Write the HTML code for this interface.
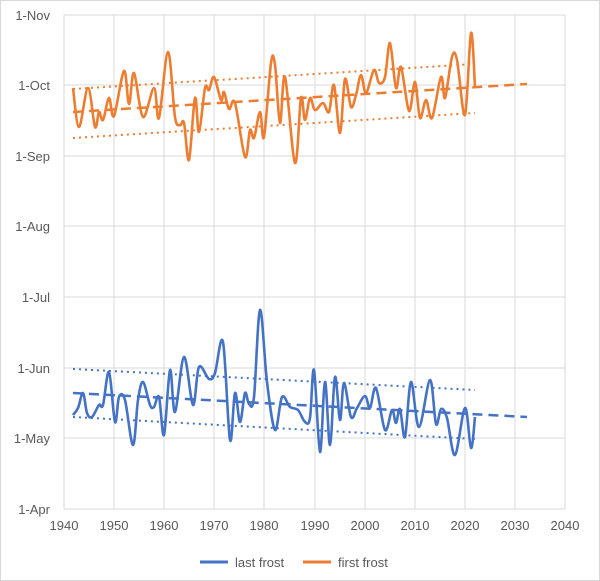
<!DOCTYPE html>
<html><head><meta charset="utf-8"><style>
html,body{margin:0;padding:0;background:#fff;}
svg{display:block;font-family:"Liberation Sans",sans-serif;}
</style></head><body>
<svg id="s" width="600" height="581" viewBox="0 0 600 581" xmlns="http://www.w3.org/2000/svg">
<rect x="0.5" y="0.5" width="599" height="580" fill="#fff" stroke="#d9d9d9"/>
<g stroke="#d9d9d9" stroke-width="1">
<line x1="64" y1="15" x2="565" y2="15"/><line x1="64" y1="85" x2="565" y2="85"/>
<line x1="64" y1="156" x2="565" y2="156"/><line x1="64" y1="226" x2="565" y2="226"/>
<line x1="64" y1="297" x2="565" y2="297"/><line x1="64" y1="368" x2="565" y2="368"/>
<line x1="64" y1="438" x2="565" y2="438"/><line x1="64" y1="509" x2="565" y2="509"/>
<line x1="64" y1="15" x2="64" y2="509"/><line x1="114" y1="15" x2="114" y2="509"/>
<line x1="164" y1="15" x2="164" y2="509"/><line x1="214" y1="15" x2="214" y2="509"/>
<line x1="264" y1="15" x2="264" y2="509"/><line x1="315" y1="15" x2="315" y2="509"/>
<line x1="365" y1="15" x2="365" y2="509"/><line x1="415" y1="15" x2="415" y2="509"/>
<line x1="465" y1="15" x2="465" y2="509"/><line x1="515" y1="15" x2="515" y2="509"/>
<line x1="565" y1="15" x2="565" y2="509"/>
</g>
<g font-size="13" fill="#595959" text-anchor="end">
<text x="50" y="20">1-Nov</text><text x="50" y="90">1-Oct</text><text x="50" y="161">1-Sep</text>
<text x="50" y="231">1-Aug</text><text x="50" y="302">1-Jul</text><text x="50" y="373">1-Jun</text>
<text x="50" y="443">1-May</text><text x="50" y="514">1-Apr</text>
</g>
<g font-size="13" fill="#595959" text-anchor="middle">
<text x="64" y="530">1940</text><text x="114" y="530">1950</text><text x="164" y="530">1960</text>
<text x="214" y="530">1970</text><text x="264" y="530">1980</text><text x="315" y="530">1990</text>
<text x="365" y="530">2000</text><text x="415" y="530">2010</text><text x="465" y="530">2020</text>
<text x="515" y="530">2030</text><text x="565" y="530">2040</text>
</g>
<g stroke-width="2" fill="none">
<line x1="73" y1="89" x2="475" y2="64" stroke="#ED7D31" stroke-dasharray="2,4"/>
<line x1="73" y1="138" x2="475" y2="113" stroke="#ED7D31" stroke-dasharray="2,4"/>
<line x1="73" y1="112" x2="527" y2="84" stroke="#ED7D31" stroke-width="2.5" stroke-dasharray="10,6"/>
<line x1="73" y1="369" x2="475" y2="390" stroke="#4472C4" stroke-dasharray="2,4"/>
<line x1="73" y1="417" x2="475" y2="439" stroke="#4472C4" stroke-dasharray="2,4"/>
<line x1="73" y1="393" x2="527" y2="417" stroke="#4472C4" stroke-width="2.5" stroke-dasharray="10,6"/>
</g>
<path id="po" fill="none" stroke="#ED7D31" stroke-width="2.6" stroke-linejoin="round"/>
<path id="pb" fill="none" stroke="#4472C4" stroke-width="2.6" stroke-linejoin="round"/>
<line x1="200" y1="562" x2="228" y2="562" stroke="#4472C4" stroke-width="3"/>
<text x="235" y="567" font-size="13" fill="#595959">last frost</text>
<line x1="303" y1="562" x2="331" y2="562" stroke="#ED7D31" stroke-width="3"/>
<text x="338" y="567" font-size="13" fill="#595959">first frost</text>
</svg>
<script>
function sm(p){var d="M"+p[0][0]+","+p[0][1];for(var i=0;i<p.length-1;i++){var a=p[i-1]||p[i],b=p[i],c=p[i+1],e=p[i+2]||c;
d+=" C"+(b[0]+(c[0]-a[0])/6).toFixed(1)+","+(b[1]+(c[1]-a[1])/6).toFixed(1)+" "+(c[0]-(e[0]-b[0])/6).toFixed(1)+","+(c[1]-(e[1]-b[1])/6).toFixed(1)+" "+c[0]+","+c[1];}return d;}
var o=[[73,88],[79,127],[88,88],[95,127],[99,112],[103,120],[109,98],[114,116],[124,71],[129,104],[134,73],[143,117],[154,88],[159,118],[168,52],[175,117],[180,125],[184,123],[189,160],[195,98],[199,132],[205,88],[209,90],[214,77],[221,100],[224,92],[229,109],[235,103],[245,157],[250,130],[254,138],[260,112],[264,137],[271,63],[275,65],[280,123],[285,77],[295,163],[301,98],[305,120],[310,98],[315,110],[323,103],[329,112],[334,85],[340,133],[345,79],[351,107],[356,95],[361,75],[366,93],[374,70],[379,83],[385,77],[390,43],[396,88],[401,67],[409,111],[415,82],[420,118],[426,100],[432,118],[441,77],[445,98],[452,57],[457,60],[465,115],[471,33],[475,87]];
var b=[[73,415],[78,408],[83,393],[87,413],[92,417],[99,405],[103,405],[109,372],[115,422],[119,397],[125,400],[133,445],[138,400],[143,382],[150,405],[154,407],[159,397],[164,435],[170,370],[175,412],[184,357],[193,405],[199,367],[209,379],[215,373],[223,342],[230,440],[235,393],[240,422],[245,393],[249,404],[254,397],[260,310],[267,382],[275,430],[282,397],[290,407],[298,410],[305,422],[310,418],[314,370],[320,452],[325,382],[330,445],[335,377],[340,420],[344,383],[351,417],[357,408],[365,396],[370,408],[376,388],[385,430],[392,410],[396,423],[400,409],[405,437],[411,382],[419,427],[430,380],[436,424],[441,409],[447,418],[455,455],[465,408],[471,448],[475,417]];
document.getElementById("po").setAttribute("d",sm(o));
document.getElementById("pb").setAttribute("d",sm(b));
</script>
</body></html>
